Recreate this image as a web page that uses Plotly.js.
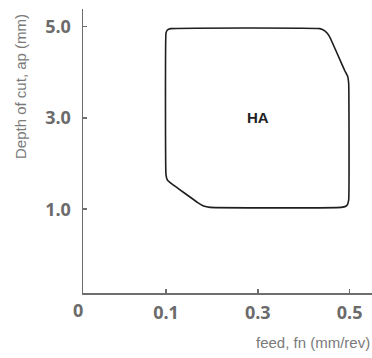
<!DOCTYPE html>
<html>
<head>
<meta charset="utf-8">
<script src="https://cdn.plot.ly/plotly-3.0.1.min.js"></script>
<style>html,body{margin:0;padding:0;background:#fff;}#chart{width:372px;height:358px;}</style>
</head>
<body>
<div id="chart"></div>
<script>
// Outline of the HA working area: feed (mm/rev) vs depth of cut (mm)
const feed = [0.100, 0.103, 0.110, 0.435, 0.446, 0.456, 0.489, 0.496, 0.498, 0.498, 0.494, 0.482, 0.196, 0.182, 0.170, 0.112, 0.103, 0.100, 0.100];
const depth = [4.85, 4.92, 4.95, 4.95, 4.90, 4.78, 4.04, 3.90, 3.75, 1.20, 1.08, 1.04, 1.04, 1.07, 1.14, 1.56, 1.64, 1.75, 4.85];
const areaLabel = "HA";
const areaLabelPos = [0.3, 3.0];
const xTickVals = [0.1, 0.3, 0.5];
const xTickText = ["0.1", "0.3", "0.5"];
const yTickVals = [1.0, 3.0, 5.0];
const yTickText = ["1.0", "3.0", "5.0"];
const originLabel = "0";
const xTitle = "feed, fn (mm/rev)";
const yTitle = "Depth of cut, ap (mm)";
const xRange = [-0.0808, 0.5488];
const yRange = [-0.8325, 5.379];

const tickFont = {family: "Open Sans, sans-serif", size: 18, color: "#6b6b6b", weight: "bold"};
const titleFont = {family: "Liberation Sans, Arial, sans-serif", size: 15, color: "#7a7a7a"};

const data = [{
  type: "scatter", mode: "lines", x: feed, y: depth,
  line: {color: "#1e1e1e", width: 1.6, shape: "spline", smoothing: 0.3},
  hoverinfo: "skip", showlegend: false
}];

const layout = {
  width: 372, height: 358,
  margin: {l: 83, r: 0, t: 9, b: 65},
  paper_bgcolor: "#fff", plot_bgcolor: "#fff",
  showlegend: false,
  xaxis: {
    range: xRange, tickmode: "array", tickvals: xTickVals, ticktext: xTickText,
    showgrid: false, zeroline: false, showline: true, linecolor: "#6e6e6e", linewidth: 1.5,
    ticks: "inside", ticklen: 4, tickwidth: 1.5, tickcolor: "#6e6e6e",
    tickfont: tickFont, ticklabelstandoff: 3, fixedrange: true
  },
  yaxis: {
    range: yRange, tickmode: "array", tickvals: yTickVals, ticktext: yTickText,
    showgrid: false, zeroline: false, showline: true, linecolor: "#6e6e6e", linewidth: 1.5,
    ticks: "inside", ticklen: 4, tickwidth: 1.5, tickcolor: "#6e6e6e",
    tickfont: tickFont, ticklabelstandoff: 7, fixedrange: true
  },
  annotations: [
    {x: areaLabelPos[0], y: areaLabelPos[1], xref: "x", yref: "y", text: "<b>" + areaLabel + "</b>",
     showarrow: false, font: {family: "Liberation Sans, Arial, sans-serif", size: 15, color: "#222"}},
    {x: xRange[0], y: yRange[0], xref: "x", yref: "y", text: "<b>" + originLabel + "</b>",
     showarrow: false, xshift: -5, yshift: -17, font: tickFont},
    {x: 1, y: 0, xref: "paper", yref: "paper", xanchor: "right", yanchor: "middle", yshift: -49,
     text: xTitle, showarrow: false, font: titleFont},
    {x: 0, y: 0, xref: "paper", yref: "paper", xanchor: "center", yanchor: "middle",
     xshift: -63, yshift: 206, textangle: -90, text: yTitle, showarrow: false, font: titleFont}
  ]
};

Plotly.newPlot("chart", data, layout, {displayModeBar: false, staticPlot: true});
</script>
</body>
</html>
